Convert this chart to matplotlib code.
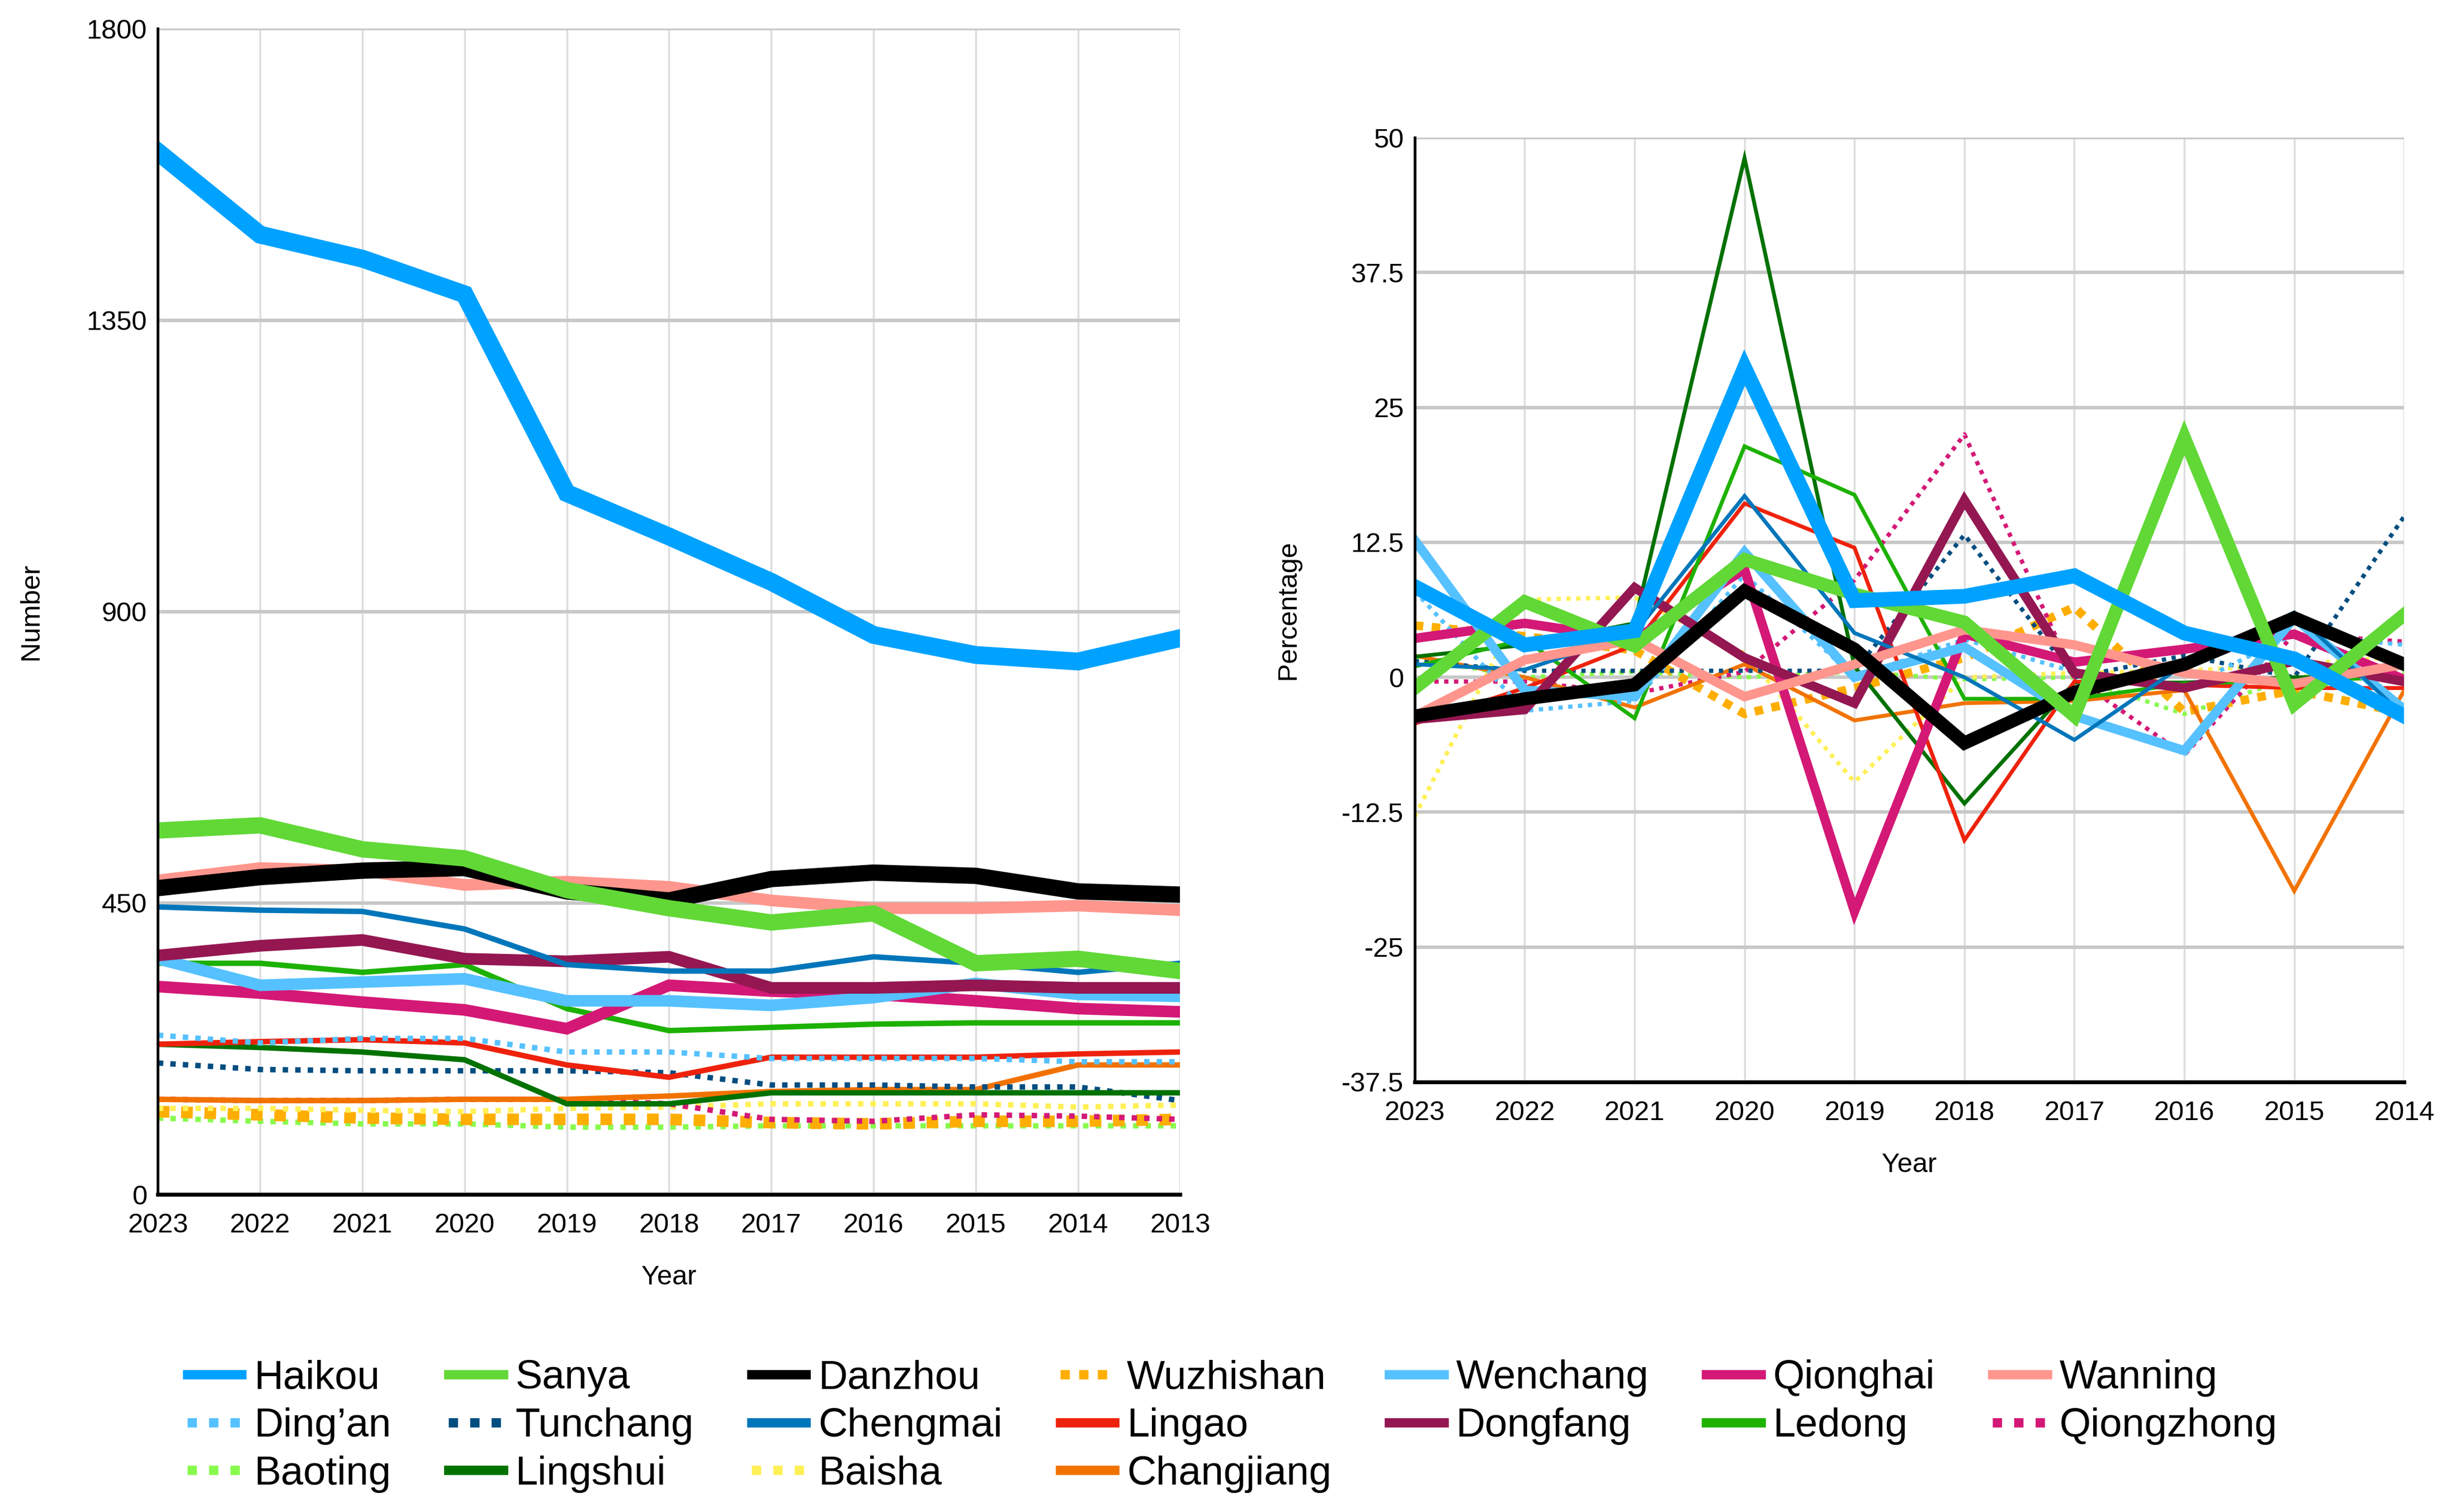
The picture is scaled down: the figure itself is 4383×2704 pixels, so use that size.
"""Hainan city/county counts and year-on-year change, 2013-2023."""
import matplotlib
matplotlib.use("Agg")
import matplotlib.pyplot as plt
from matplotlib.ticker import FuncFormatter

plt.rcParams["font.family"] = ["Liberation Sans", "DejaVu Sans"]

YEARS = [2023, 2022, 2021, 2020, 2019, 2018, 2017, 2016, 2015, 2014, 2013]
PCT_YEARS = YEARS[:-1]

# left panel: counts
haikou = [1610, 1482, 1445, 1390, 1083, 1016, 946, 864, 833, 823, 859]
sanya = [562, 570, 533, 519, 470, 442, 420, 434, 357, 364, 345]
danzhou = [473, 490, 500, 504, 468, 454, 487, 497, 492, 468, 463]
wuzhishan = [128, 123, 118, 116, 116, 116, 111, 109, 113, 113, 116]
wenchang = [364, 323, 328, 333, 299, 299, 292, 304, 326, 309, 306]
qionghai = [321, 311, 297, 285, 256, 323, 314, 309, 299, 287, 282]
wanning = [485, 504, 500, 478, 483, 475, 454, 442, 442, 446, 439]
dingan = [246, 234, 241, 241, 220, 220, 210, 210, 210, 205, 205]
tunchang = [203, 193, 191, 191, 191, 188, 169, 169, 166, 166, 145]
chengmai = [444, 439, 437, 410, 355, 345, 345, 367, 357, 343, 357]
lingao = [232, 236, 239, 234, 200, 181, 212, 212, 212, 217, 220]
dongfang = [369, 384, 393, 364, 360, 367, 319, 319, 323, 319, 319]
ledong = [357, 357, 343, 355, 287, 253, 258, 263, 265, 265, 265]
qiongzhong = [147, 145, 145, 147, 147, 140, 116, 113, 123, 121, 116]
baoting = [118, 113, 109, 109, 104, 104, 106, 106, 106, 106, 106]
lingshui = [232, 227, 220, 208, 140, 140, 157, 157, 157, 157, 157]
baisha = [133, 133, 130, 128, 133, 135, 140, 140, 140, 135, 138]
changjiang = [147, 145, 145, 147, 147, 152, 159, 162, 162, 200, 200]

# right panel: year-on-year change (%)
haikou_p = [8.4, 3.0, 4.3, 28.7, 7.1, 7.5, 9.4, 4.1, 1.7, -3.6]
sanya_p = [-1.0, 7.0, 2.9, 10.9, 7.7, 5.1, -3.6, 22.2, -2.5, 5.8]
danzhou_p = [-3.6, -2.0, -0.7, 8.0, 2.6, -6.1, -1.4, 1.2, 5.5, 1.2]
wuzhishan_p = [4.8, 3.8, 2.5, -3.4, -1.0, 1.8, 6.5, -3.2, -1.2, -3.3]
wenchang_p = [12.7, -1.2, -1.8, 11.6, 0.0, 2.8, -3.6, -6.8, 5.5, -3.0]
qionghai_p = [3.6, 5.0, 3.5, 10.0, -21.7, 4.0, 1.4, 2.6, 4.0, -0.2]
wanning_p = [-3.6, 1.6, 3.5, -1.8, 1.2, 4.4, 3.0, 0.4, -0.6, 1.2]
dingan_p = [8.0, -3.1, -2.2, 9.5, 0.0, 3.5, 0.5, -1.0, 4.0, 3.0]
tunchang_p = [1.5, 0.6, 0.6, 0.6, 0.6, 13.2, 0.0, 2.0, 0.0, 14.9]
chengmai_p = [1.2, 0.7, 4.1, 16.8, 4.1, 0.0, -5.8, 1.2, 6.0, -3.6]
lingao_p = [-4.3, -1.0, 3.0, 16.1, 12.0, -15.1, -0.4, -0.7, -1.0, -1.0]
dongfang_p = [-3.9, -3.0, 8.3, 1.8, -2.4, 16.4, 0.4, -1.0, 1.5, -0.4]
ledong_p = [1.0, 3.5, -3.8, 21.4, 16.9, -2.0, -2.0, -0.6, -0.3, 0.0]
qiongzhong_p = [-0.4, -0.4, -1.5, 0.5, 9.0, 22.5, 0.0, -7.2, 4.0, 3.3]
baoting_p = [1.8, 0.0, 0.5, 0.0, 0.5, -0.2, 0.0, -3.4, 0.0, 0.5]
lingshui_p = [1.9, 3.0, 5.0, 48.1, 1.0, -11.7, -0.5, -0.5, 0.0, 0.0]
baisha_p = [-12.9, 7.2, 7.4, 2.2, -9.7, 0.0, 0.4, 0.6, 1.2, 1.9]
changjiang_p = [2.0, 0.0, -2.8, 1.2, -4.0, -2.4, -2.2, -1.2, -19.8, -1.2]

DOT = (0, (1, 1.3))
DASH = (0, (1, 1.0))

# name, counts, pct, colour, style, width left, width right
SERIES = [
    ("Haikou", haikou, haikou_p, "#00A2FF", "-", 23, 19),
    ("Ding\u2019an", dingan, dingan_p, "#56C1FF", DOT, 7, 5.5),
    ("Baoting", baoting, baoting_p, "#88FA4E", DOT, 7, 5.5),
    ("Sanya", sanya, sanya_p, "#61D836", "-", 21, 17),
    ("Tunchang", tunchang, tunchang_p, "#004D80", DOT, 7, 5.5),
    ("Lingshui", lingshui, lingshui_p, "#017100", "-", 7, 5),
    ("Danzhou", danzhou, danzhou_p, "#000000", "-", 21, 17),
    ("Chengmai", chengmai, chengmai_p, "#0076BA", "-", 7, 5),
    ("Baisha", baisha, baisha_p, "#FFF056", DOT, 7, 5.5),
    ("Wuzhishan", wuzhishan, wuzhishan_p, "#FEAE00", DASH, 15, 11),
    ("Lingao", lingao, lingao_p, "#EE220C", "-", 7, 5),
    ("Changjiang", changjiang, changjiang_p, "#F27200", "-", 7, 5),
    ("Wenchang", wenchang, wenchang_p, "#56C1FF", "-", 15, 12),
    ("Dongfang", dongfang, dongfang_p, "#941751", "-", 15, 12),
    ("Qionghai", qionghai, qionghai_p, "#D41876", "-", 15, 12),
    ("Ledong", ledong, ledong_p, "#1DB100", "-", 7, 5),
    ("Wanning", wanning, wanning_p, "#FF968D", "-", 15, 12),
    ("Qiongzhong", qiongzhong, qiongzhong_p, "#D41876", DOT, 7, 5.5),
]
# drawing order (bottom to top)
Z = ["Baoting", "Wuzhishan", "Baisha", "Qiongzhong", "Changjiang", "Tunchang",
     "Lingshui", "Lingao", "Ding\u2019an", "Ledong", "Qionghai", "Wenchang",
     "Dongfang", "Chengmai", "Wanning", "Danzhou", "Sanya", "Haikou"]

fig = plt.figure(figsize=(43.83, 27.04), dpi=100)
ax1 = fig.add_axes([0.0644, 0.210, 0.4171, 0.771])
ax2 = fig.add_axes([0.5772, 0.2844, 0.4037, 0.6246])

handles = []
for name, cnt, pct, col, ls, w1, w2 in SERIES:
    z = 2 + Z.index(name)
    h, = ax1.plot(YEARS, cnt, color=col, ls=ls, lw=w1, zorder=z,
                  solid_joinstyle="miter", dash_capstyle="butt", label=name)
    ax2.plot(PCT_YEARS, pct, color=col, ls=ls, lw=w2, zorder=z,
             solid_joinstyle="miter", dash_capstyle="butt")
    handles.append(h)

fmt = FuncFormatter(lambda v, p: f"{v:g}")
for ax, yt, xs, ylabel in [
    (ax1, [0, 450, 900, 1350, 1800], YEARS, "Number"),
    (ax2, [-37.5, -25, -12.5, 0, 12.5, 25, 37.5, 50], PCT_YEARS, "Percentage"),
]:
    ax.set_xlim(xs[0], xs[-1])
    ax.set_ylim(yt[0], yt[-1])
    ax.set_xticks(xs)
    ax.set_yticks(yt)
    ax.yaxis.set_major_formatter(fmt)
    ax.grid(axis="x", color="#DDDDDD", lw=2.5, zorder=0)
    ax.grid(axis="y", color="#C8C8C8", lw=4.5, zorder=0)
    ax.tick_params(length=0, labelsize=35, pad=24)
    ax.tick_params(axis="y", pad=14)
    for s in ("top", "right"):
        ax.spines[s].set_visible(False)
    ax.spines["left"].set_linewidth(3.5)
    ax.spines["bottom"].set_linewidth(5)
    ax.spines["left"].set_zorder(30)
    ax.spines["bottom"].set_zorder(30)
    ax.set_xlabel("Year", fontsize=35, labelpad=34)
    ax.set_ylabel(ylabel, fontsize=35, labelpad=20)

ax1.yaxis.set_label_coords(-0.112, 0.5)
ax2.yaxis.set_label_coords(-0.115, 0.5)

leg = fig.legend(handles=handles, loc="upper left", bbox_to_anchor=(0.0615, 0.125),
                 ncol=7, frameon=False, fontsize=52, handlelength=1.35,
                 handletextpad=0.3, columnspacing=1.43, labelspacing=0.26)
for line in leg.get_lines():
    line.set_linewidth(12)

fig.savefig("out.png", dpi=100)
